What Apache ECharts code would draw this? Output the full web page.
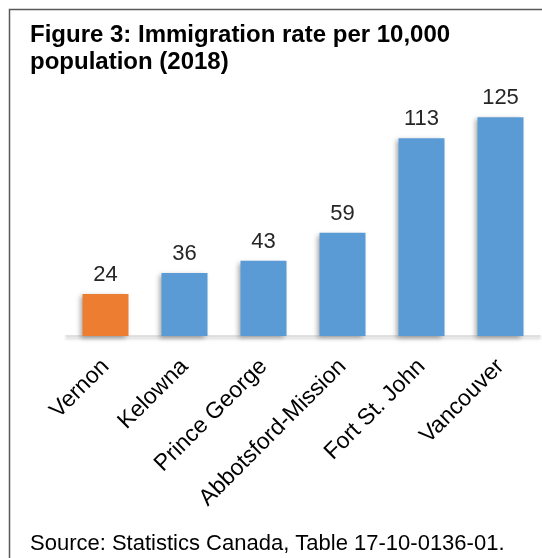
<!DOCTYPE html>
<html><head><meta charset="utf-8">
<script src="https://cdn.jsdelivr.net/npm/echarts@6/dist/echarts.min.js"></script>
<style>html,body{margin:0;padding:0;background:#fff}#c{width:542px;height:558px}</style>
</head><body><div id="c"></div>
<script>
const categories = ['Vernon','Kelowna','Prince George','Abbotsford-Mission','Fort St. John','Vancouver'];
const values = [24, 36, 43, 59, 113, 125];
const highlight = 'Vernon';
const chart = echarts.init(document.getElementById('c'));
chart.setOption({
  animation: false,
  graphic: [
    {type:'rect', shape:{x:9.5,y:9.5,width:560,height:580}, style:{fill:'none', stroke:'#595959', lineWidth:1.5}},
    {type:'text', left:30, top:22, style:{text:'Figure 3: Immigration rate per 10,000\npopulation (2018)', font:'bold 24px "Liberation Sans", Arial, sans-serif', fill:'#000', lineHeight:27}},
    {type:'text', left:30, top:533, style:{text:'Source: Statistics Canada, Table 17-10-0136-01.', font:'22px "Liberation Sans", Arial, sans-serif', fill:'#000'}}
  ],
  grid: {left:66, right:2, top:91, bottom:222, containLabel:false},
  xAxis: {
    type:'category', data: categories,
    axisLine:{lineStyle:{color:'#d9d9d9', width:1.5, shadowBlur:3, shadowOffsetY:2, shadowColor:'rgba(0,0,0,0.25)'}},
    axisTick:{show:false},
    axisLabel:{rotate:45, interval:0, margin:27, color:'#000', fontSize:23, fontFamily:'"Liberation Sans", Arial, sans-serif'}
  },
  yAxis: {type:'value', min:0, max:140, show:false, splitLine:{show:false}},
  series: [{
    type:'bar', barWidth:46,
    data: values.map((v,i)=>({value:v, itemStyle:{color: categories[i]===highlight ? '#ED7D31' : '#5B9BD5'}})),
    itemStyle:{shadowBlur:5, shadowOffsetX:-3, shadowOffsetY:2, shadowColor:'rgba(0,0,0,0.35)'},
    label:{show:true, position:'top', distance:8, color:'#262626', fontSize:22, fontFamily:'"Liberation Sans", Arial, sans-serif'}
  }]
});
</script></body></html>
